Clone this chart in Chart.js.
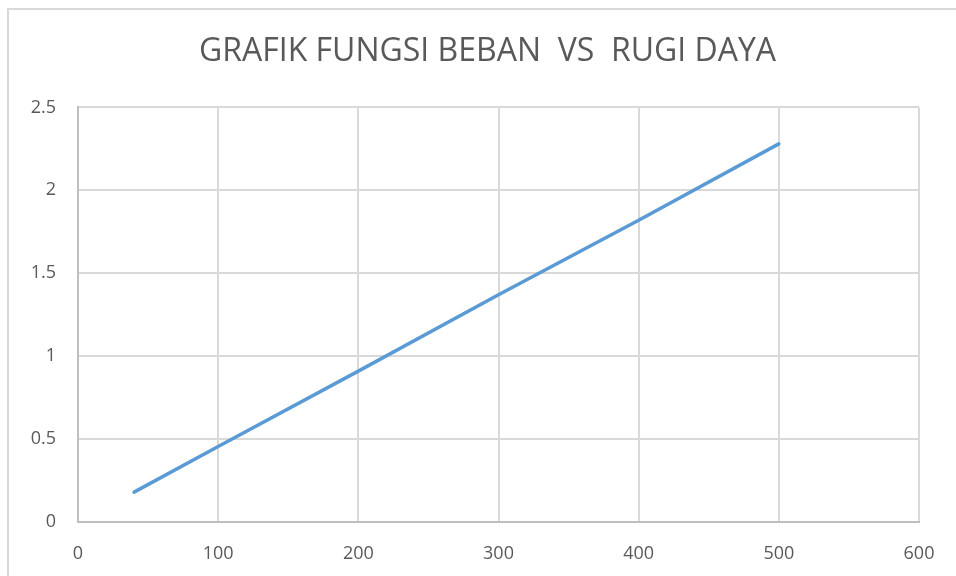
<!DOCTYPE html>
<html>
<head>
<meta charset="utf-8">
<script src="https://cdn.jsdelivr.net/npm/chart.js@4.4.1/dist/chart.umd.min.js"></script>
<style>
    html, body { margin: 0; padding: 0; background: #ffffff; overflow: hidden; }
    #frame { position: absolute; left: 7px; top: 8px; width: 1000px; height: 1000px;
             border-left: 2px solid #d9d9d9; border-top: 2px solid #d9d9d9; }
    #wrap { position: absolute; left: 0; top: 0; width: 956px; height: 576px; }
</style>
</head>
<body>
<div id="frame"></div>
<div id="wrap"><canvas id="bebanChart"></canvas></div>
<script>
const chartTitle = 'GRAFIK FUNGSI BEBAN  VS  RUGI DAYA';
const beban = [40, 100, 200, 300, 400, 500];       // x values
const rugiDaya = [0.18, 0.455, 0.91, 1.37, 1.82, 2.28]; // y values
const xTicks = [0, 100, 200, 300, 400, 500, 600];
const yTicks = [0, 0.5, 1, 1.5, 2, 2.5];

const points = beban.map((b, i) => ({ x: b, y: rugiDaya[i] }));
const labelFont = { family: 'Open Sans', size: 18 };

const ctx = document.getElementById('bebanChart').getContext('2d');
new Chart(ctx, {
    type: 'line',
    data: {
        datasets: [{
            data: points,
            borderColor: '#5b9bd5',
            borderWidth: 3.5,
            borderCapStyle: 'round',
            pointRadius: 0,
            tension: 0,
            fill: false
        }]
    },
    options: {
        responsive: true,
        maintainAspectRatio: false,
        animation: false,
        layout: { padding: { left: 19, right: 0, top: 0, bottom: 0 } },
        plugins: {
            legend: { display: false },
            tooltip: { enabled: false },
            title: {
                display: true,
                text: chartTitle,
                color: '#595959',
                font: { family: 'Open Sans', size: 32, weight: 'normal' },
                padding: { top: 33, bottom: 36 }
            }
        },
        scales: {
            x: {
                type: 'linear',
                min: 0,
                max: 600,
                afterBuildTicks: axis => { axis.ticks = xTicks.map(v => ({ value: v })); },
                afterFit: axis => { axis.height = 54; },
                grid: { color: '#d9d9d9', lineWidth: 2, drawTicks: false },
                border: { color: '#bfbfbf', width: 2 },
                ticks: { color: '#595959', font: labelFont, padding: 21, callback: v => String(v) }
            },
            y: {
                type: 'linear',
                min: 0,
                max: 2.5,
                afterBuildTicks: axis => { axis.ticks = yTicks.map(v => ({ value: v })); },
                afterFit: axis => { axis.width = 59; },
                grid: { color: '#d9d9d9', lineWidth: 2, drawTicks: false },
                border: { color: '#bfbfbf', width: 2 },
                ticks: { color: '#595959', font: labelFont, padding: 22, callback: v => String(v) }
            },
            // empty right-hand spacer so the plot ends where the reference does
            spacer: {
                type: 'linear',
                position: 'right',
                min: 0,
                max: 2.5,
                afterFit: axis => { axis.width = 37; },
                grid: { display: false },
                border: { display: false },
                ticks: { display: false }
            }
        }
    }
});
</script>
</body>
</html>
